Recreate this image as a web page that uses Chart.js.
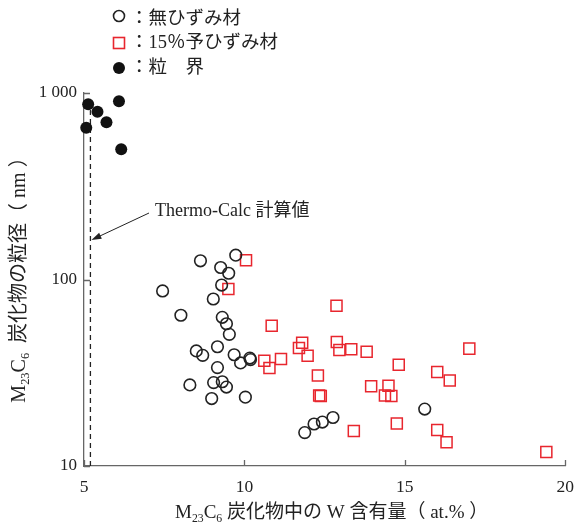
<!DOCTYPE html>
<html>
<head>
<meta charset="utf-8">
<script src="https://cdn.jsdelivr.net/npm/chart.js@4.4.0/dist/chart.umd.min.js"></script>
<style>
  html, body { margin: 0; padding: 0; background: #fff; }
  canvas { display: block; }
</style>
</head>
<body>
<canvas id="chart" width="585" height="525"></canvas>
<script>
// W content of M23C6 carbides (at.%) against carbide particle size (nm)

// no pre-strain
const noStrainW = [8.63, 9.73, 9.26, 9.51, 9.29, 7.45, 9.03, 8.02, 9.31, 9.44,
  9.53, 9.16, 8.50, 8.70, 9.68, 9.88, 10.17, 10.19, 9.16, 8.30,
  9.04, 9.31, 9.44, 8.98, 10.03, 11.88, 12.17, 12.43, 12.76, 15.62];
const noStrainSize = [126, 135, 116, 108, 93.4, 86.8, 78.6, 64.3, 62.7, 57.9,
  50.8, 43.6, 41.4, 39.2, 39.5, 35.7, 37.9, 37.2, 33.7, 27.2,
  28.0, 28.3, 26.5, 23.0, 23.4, 15.1, 16.8, 17.2, 18.2, 20.2];

// 15% pre-strain
const preStrainW = [10.05, 9.50, 10.85, 10.62, 11.14, 10.78, 12.87, 11.80, 11.70, 11.97,
  12.88, 12.96, 13.33, 13.81, 14.81, 16.01, 12.29, 13.95, 14.49, 14.38,
  14.58, 12.33, 12.38, 14.75, 13.41, 16.01, 17.01, 16.40, 16.30, 19.41];
const preStrainSize = [127, 88.9, 56.5, 36.7, 37.5, 33.5, 72.4, 45.8, 42.9, 39.0,
  46.2, 41.9, 42.3, 41.0, 34.9, 31.9, 30.6, 26.8, 26.9, 23.9,
  23.7, 23.9, 23.7, 16.9, 15.4, 15.6, 42.6, 28.7, 13.4, 11.9];

// grain boundary carbides
const grainBoundaryW = [5.13, 5.42, 5.70, 6.09, 5.07, 6.16];
const grainBoundarySize = [870, 794, 697, 903, 652, 499];

// Thermo-Calc equilibrium value
const thermoCalcW = 5.2;
const thermoCalcSpan = [10, 850];

const xTickValues = [5, 10, 15, 20];
const yTickValues = [10, 100, 1000];
const yTickLabels = ['10', '100', '1 000'];

const seriesLabels = ['：無ひずみ材', '：15％予ひずみ材', '：粒　界'];
const noteLabel = 'Thermo-Calc 計算値';
const xTitleParts = [['M', 0], ['23', 1], ['C', 0], ['6', 1], [' 炭化物中の W 含有量（ at.% ）', 0]];
const yTitleParts = [['M', 0], ['23', 1], ['C', 0], ['6', 1], ['  炭化物の粒径（ nm ）', 0]];

const FAMILY = '"Liberation Serif", "Times New Roman", "Noto Sans CJK JP", serif';
const INK = '#222';
const RED = '#e8262e';
const AXIS = '#666';

const zip = (xs, ys) => xs.map((x, i) => ({ x, y: ys[i] }));

function fontOf(size) { return size + 'px ' + FAMILY; }

function richWidth(ctx, parts, size) {
  let w = 0;
  for (const [t, sub] of parts) {
    ctx.font = fontOf(sub ? size * 0.62 : size);
    w += ctx.measureText(t).width;
  }
  return w;
}

function drawRich(ctx, parts, x, baseline, size) {
  ctx.textBaseline = 'alphabetic';
  ctx.textAlign = 'left';
  let cx = x;
  for (const [t, sub] of parts) {
    ctx.font = fontOf(sub ? size * 0.62 : size);
    ctx.fillText(t, cx, baseline + (sub ? size * 0.22 : 0));
    cx += ctx.measureText(t).width;
  }
}

const decor = {
  id: 'decor',
  afterDraw(chart) {
    const { ctx, chartArea: a, scales: { x, y } } = chart;
    ctx.save();

    // inward tick marks
    ctx.strokeStyle = AXIS;
    ctx.lineWidth = 1.3;
    ctx.beginPath();
    for (const v of xTickValues) {
      const px = Math.round(x.getPixelForValue(v)) + 0.5;
      ctx.moveTo(px, a.bottom);
      ctx.lineTo(px, a.bottom - 6);
    }
    for (const v of yTickValues) {
      const py = Math.round(y.getPixelForValue(v)) + 0.5;
      ctx.moveTo(a.left, py);
      ctx.lineTo(a.left + 6, py);
    }
    ctx.stroke();

    // axis titles
    ctx.fillStyle = INK;
    const xs = 19;
    const xw = richWidth(ctx, xTitleParts, xs);
    drawRich(ctx, xTitleParts, (a.left + a.right) / 2 - xw / 2 + 7, 518, xs);

    const ys = 20;
    const yw = richWidth(ctx, yTitleParts, ys);
    ctx.save();
    ctx.translate(25, 275);
    ctx.rotate(-Math.PI / 2);
    drawRich(ctx, yTitleParts, -yw / 2, 0, ys);
    ctx.restore();

    // series key
    const keyX = 119;
    const rows = [16, 43, 68];
    const textRows = [19, 43, 68];
    ctx.lineWidth = 1.6;
    // open circle
    ctx.strokeStyle = INK;
    ctx.beginPath();
    ctx.arc(keyX, rows[0], 5.5, 0, Math.PI * 2);
    ctx.stroke();
    // open square
    ctx.strokeStyle = RED;
    ctx.strokeRect(keyX - 5.5, rows[1] - 5.5, 11, 11);
    // filled circle
    ctx.fillStyle = '#111';
    ctx.beginPath();
    ctx.arc(keyX, rows[2], 6, 0, Math.PI * 2);
    ctx.fill();

    ctx.fillStyle = INK;
    ctx.font = fontOf(18.5);
    ctx.textAlign = 'left';
    ctx.textBaseline = 'middle';
    seriesLabels.forEach((s, i) => ctx.fillText(s, 130, textRows[i]));

    // Thermo-Calc note with arrow
    ctx.font = fontOf(18);
    ctx.fillText(noteLabel, 155, 211);
    const tipX = x.getPixelForValue(thermoCalcW) + 1;
    const tipY = 240;
    const fromX = 149, fromY = 213;
    const ang = Math.atan2(tipY - fromY, tipX - fromX);
    ctx.strokeStyle = INK;
    ctx.lineWidth = 1;
    ctx.beginPath();
    ctx.moveTo(fromX, fromY);
    ctx.lineTo(tipX - 8 * Math.cos(ang), tipY - 8 * Math.sin(ang));
    ctx.stroke();
    ctx.beginPath();
    ctx.moveTo(tipX, tipY);
    ctx.lineTo(tipX - 10 * Math.cos(ang) + 3.2 * Math.sin(ang), tipY - 10 * Math.sin(ang) - 3.2 * Math.cos(ang));
    ctx.lineTo(tipX - 10 * Math.cos(ang) - 3.2 * Math.sin(ang), tipY - 10 * Math.sin(ang) + 3.2 * Math.cos(ang));
    ctx.closePath();
    ctx.fill();

    ctx.restore();
  }
};

new Chart(document.getElementById('chart'), {
  type: 'scatter',
  data: {
    datasets: [
      {
        label: seriesLabels[0],
        data: zip(noStrainW, noStrainSize),
        pointStyle: 'circle',
        pointRadius: 5.8,
        borderWidth: 1.6,
        borderColor: INK,
        backgroundColor: 'rgba(0,0,0,0)',
        clip: false
      },
      {
        label: seriesLabels[1],
        data: zip(preStrainW, preStrainSize),
        pointStyle: 'rect',
        pointRadius: 7.8,
        borderWidth: 1.5,
        borderColor: RED,
        backgroundColor: 'rgba(0,0,0,0)',
        clip: false
      },
      {
        label: seriesLabels[2],
        data: zip(grainBoundaryW, grainBoundarySize),
        pointStyle: 'circle',
        pointRadius: 6,
        borderWidth: 0,
        borderColor: '#111',
        backgroundColor: '#111',
        clip: false
      },
      {
        label: noteLabel,
        type: 'line',
        data: thermoCalcSpan.map(v => ({ x: thermoCalcW, y: v })),
        borderColor: INK,
        borderWidth: 1.3,
        borderDash: [5, 4],
        pointRadius: 0,
        fill: false
      }
    ]
  },
  options: {
    responsive: false,
    animation: false,
    devicePixelRatio: 1,
    layout: { padding: { top: 93, right: 10, left: 0, bottom: 0 } },
    plugins: { legend: { display: false }, tooltip: { enabled: false } },
    scales: {
      x: {
        type: 'linear',
        min: 5,
        max: 20,
        afterBuildTicks: s => { s.ticks = xTickValues.map(v => ({ value: v })); },
        afterFit: s => { s.height = 59; },
        grid: { display: false, drawTicks: false },
        border: { display: true, color: AXIS, width: 1.3 },
        ticks: { color: INK, font: { family: FAMILY, size: 17.5 }, padding: 11, maxRotation: 0 }
      },
      y: {
        type: 'logarithmic',
        min: 10,
        max: 1000,
        afterBuildTicks: s => { s.ticks = yTickValues.map(v => ({ value: v })); },
        afterFit: s => { s.width = 84; },
        grid: { display: false, drawTicks: false },
        border: { display: true, color: AXIS, width: 1.3 },
        ticks: {
          color: INK,
          font: { family: FAMILY, size: 17 },
          padding: 7,
          callback: v => {
            const i = yTickValues.indexOf(v);
            return i >= 0 ? yTickLabels[i] : '';
          }
        }
      }
    }
  },
  plugins: [decor]
});
</script>
</body>
</html>
